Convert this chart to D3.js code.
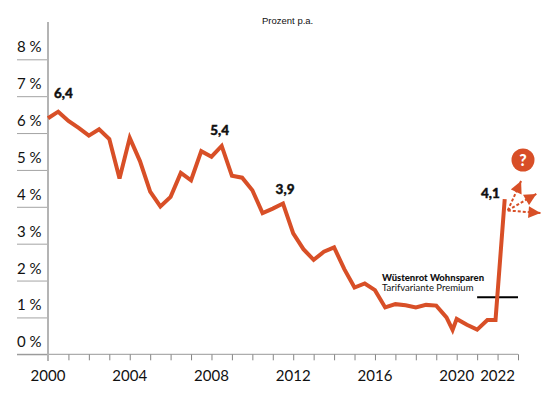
<!DOCTYPE html>
<html>
<head>
<meta charset="utf-8">
<script src="https://cdn.jsdelivr.net/npm/d3@7"></script>
<style>
  body { margin: 0; background: #fff; }
  text { font-family: Lato, sans-serif; fill: #111; }
</style>
</head>
<body>
<div class="content"></div>
<script>
var years = [2000, 2000.5, 2001, 2001.5, 2002, 2002.5, 2003, 2003.5, 2004, 2004.5, 2005, 2005.5, 2006, 2006.5, 2007, 2007.5, 2008, 2008.5, 2009, 2009.5, 2010, 2010.5, 2011, 2011.5, 2012, 2012.5, 2013, 2013.5, 2014, 2014.5, 2015, 2015.5, 2016, 2016.5, 2017, 2017.5, 2018, 2018.5, 2019, 2019.5, 2019.8, 2020, 2020.5, 2021, 2021.5, 2021.9, 2022.35]
var rates = [6.40, 6.58, 6.33, 6.14, 5.93, 6.10, 5.84, 4.77, 5.87, 5.24, 4.41, 4.01, 4.27, 4.92, 4.72, 5.51, 5.36, 5.65, 4.84, 4.79, 4.45, 3.83, 3.95, 4.09, 3.28, 2.85, 2.56, 2.78, 2.90, 2.31, 1.81, 1.92, 1.74, 1.27, 1.36, 1.33, 1.27, 1.34, 1.32, 1.00, 0.66, 0.96, 0.80, 0.67, 0.93, 0.93, 4.21]

var yTicks = [0, 1, 2, 3, 4, 5, 6, 7, 8]
var xTicks = d3.range(2000, 2024)
var xLabels = [2000, 2004, 2008, 2012, 2016, 2020, 2022]

var noteLabels = ["6,4", "5,4", "3,9", "4,1"]
var noteYears = [2000.75, 2008.4, 2011.6, 2021.65]
var noteValues = [6.95, 5.95, 4.35, 4.25]

var premiumYears = [2021, 2023]
var premiumValue = 1.55

// dashed outlook: start point, then the tip of each arrow
var arrowStart = [2022.5, 3.9]
var arrowYears = [2023.15, 2023.9, 2024.1]
var arrowValues = [4.7, 4.35, 3.83]

var width = 555
var height = 394

var x = d3.scaleLinear().domain([2000, 2023]).range([48, 518])
var y = d3.scaleLinear().domain([0, 8]).range([354.3, 59.3])

var svg = d3.select(".content")
    .append("svg")
    .attr("width", width)
    .attr("height", height)
    .style("display", "block")

// y gridlines are only short stubs left of the axis
var yAxis = d3.axisLeft(y)
    .tickValues(yTicks)
    .tickSize(31)
    .tickFormat("")

var gy = svg.append("g")
    .attr("transform", "translate(48,0)")
    .call(yAxis)
gy.select(".domain").remove()
gy.selectAll("line").attr("stroke", "#8d8d8d").attr("stroke-width", 0.8)

svg.append("g")
    .selectAll("text")
    .data(yTicks)
    .enter()
    .append("text")
    .attr("x", 17)
    .attr("y", function(d) { return y(d) - 7 })
    .attr("font-size", 15)
    .text(function(d) { return d + " %" })

// x axis
var xAxis = d3.axisBottom(x)
    .tickValues(xTicks)
    .tickSize(6)
    .tickFormat("")

var gx = svg.append("g")
    .attr("transform", "translate(0,354.3)")
    .call(xAxis)
gx.select(".domain").remove()
gx.selectAll("line").attr("stroke", "#777").attr("stroke-width", 0.9)

svg.append("line")
    .attr("x1", 17)
    .attr("x2", x(2023))
    .attr("y1", y(0))
    .attr("y2", y(0))
    .attr("stroke", "#8d8d8d")
    .attr("stroke-width", 0.9)

svg.append("line")
    .attr("x1", x(2000))
    .attr("x2", x(2000))
    .attr("y1", 22)
    .attr("y2", 361)
    .attr("stroke", "#b4b4b4")
    .attr("stroke-width", 2)

svg.append("g")
    .selectAll("text")
    .data(xLabels)
    .enter()
    .append("text")
    .attr("x", function(d) { return x(d) })
    .attr("y", 381)
    .attr("text-anchor", "middle")
    .attr("font-size", 15)
    .text(function(d) { return d })

svg.append("text")
    .attr("x", 262)
    .attr("y", 24)
    .style("font-family", "Liberation Sans")
    .attr("font-size", 9.5)
    .text("Prozent p.a.")

// premium marker
svg.append("line")
    .attr("x1", x(premiumYears[0]))
    .attr("x2", x(premiumYears[1]))
    .attr("y1", y(premiumValue))
    .attr("y2", y(premiumValue))
    .attr("stroke", "#000")
    .attr("stroke-width", 2)

svg.append("text")
    .attr("x", 382)
    .attr("y", 281)
    .attr("font-size", 9.5)
    .attr("font-weight", 900)
    .text("Wüstenrot Wohnsparen")

svg.append("text")
    .attr("x", 382)
    .attr("y", 291)
    .attr("font-size", 9.5)
    .text("Tarifvariante Premium")

// rate line
var line = d3.line()
    .x(function(d, i) { return x(years[i]) })
    .y(function(d) { return y(d) })

svg.append("path")
    .attr("d", line(rates))
    .attr("fill", "none")
    .attr("stroke", "#d84f27")
    .attr("stroke-width", 4)
    .attr("stroke-linejoin", "miter")

svg.append("g")
    .selectAll("text")
    .data(noteLabels)
    .enter()
    .append("text")
    .attr("x", function(d, i) { return x(noteYears[i]) })
    .attr("y", function(d, i) { return y(noteValues[i]) })
    .attr("text-anchor", "middle")
    .attr("font-size", 13.5)
    .attr("font-weight", 900)
    .attr("stroke", "#111")
    .attr("stroke-width", 0.4)
    .text(function(d) { return d })

var defs = svg.append("defs")
defs.append("marker")
    .attr("id", "head")
    .attr("viewBox", "0 0 10 10")
    .attr("refX", 10)
    .attr("refY", 5)
    .attr("markerWidth", 14)
    .attr("markerHeight", 12)
    .attr("markerUnits", "userSpaceOnUse")
    .attr("orient", "auto")
    .append("path")
    .attr("d", "M0,0L10,5L0,10Z")
    .attr("fill", "#d84f27")

svg.append("g")
    .selectAll("line")
    .data(arrowYears)
    .enter()
    .append("line")
    .attr("x1", x(arrowStart[0]))
    .attr("y1", y(arrowStart[1]))
    .attr("x2", function(d) { return x(d) })
    .attr("y2", function(d, i) { return y(arrowValues[i]) })
    .attr("stroke", "#d84f27")
    .attr("stroke-width", 2)
    .attr("stroke-dasharray", "3,2")
    .attr("marker-end", "url(#head)")

// question mark badge
svg.append("circle")
    .attr("cx", 523)
    .attr("cy", 160)
    .attr("r", 11.5)
    .attr("fill", "#d84f27")

svg.append("text")
    .attr("x", 523)
    .attr("y", 166)
    .attr("text-anchor", "middle")
    .attr("font-size", 16)
    .attr("font-weight", 900)
    .style("fill", "#fff")
    .text("?")
</script>
</body>
</html>
